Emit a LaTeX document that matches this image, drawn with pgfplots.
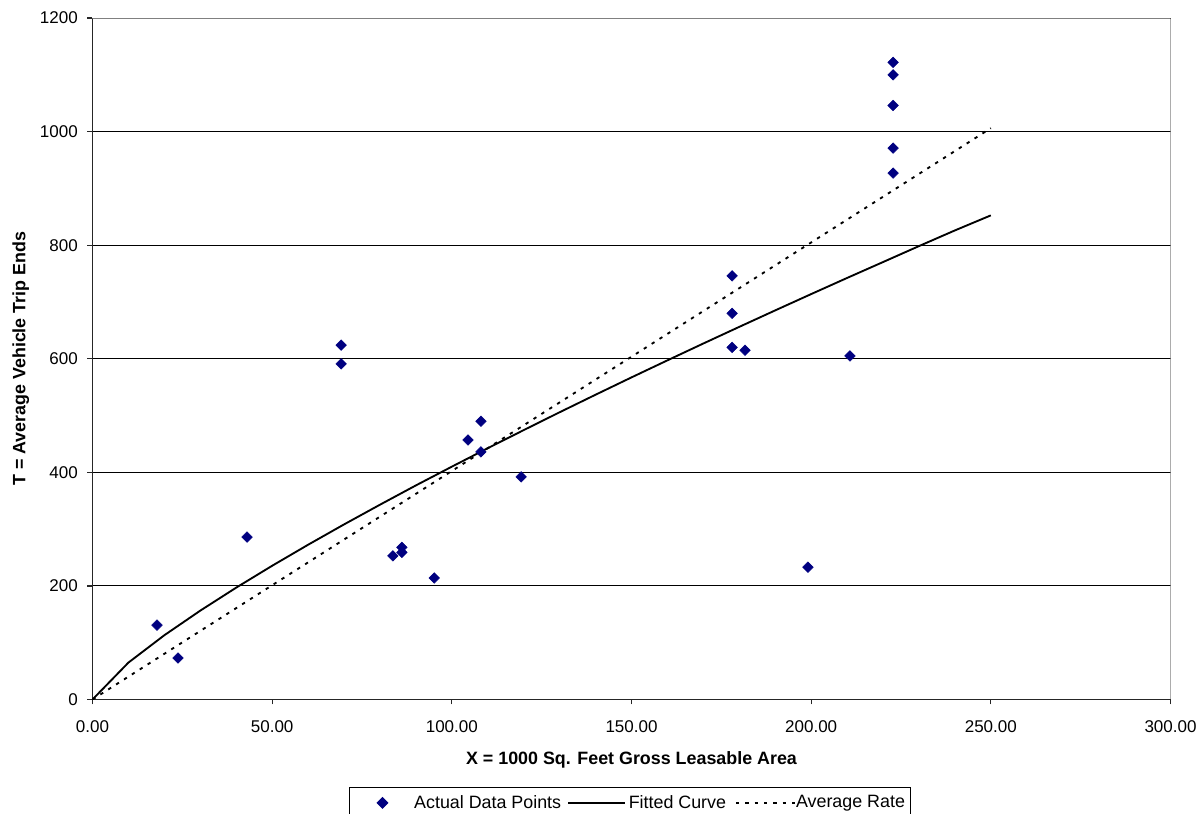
\documentclass[border=0pt]{standalone}
\usepackage{fontspec}
\setmainfont{Liberation Sans}
\usepackage{pgfplots}
\pgfplotsset{compat=1.18}
\definecolor{navy}{RGB}{0,0,128}
\newcommand\fs{\fontsize{12.75pt}{15pt}\selectfont}
\newcommand\fl{\fontsize{13.4pt}{16pt}\selectfont}
\pgfplotsset{
  markleg/.style={legend image code/.code={\path[draw=none] (-24.75pt,0pt) -- (23.8pt,0pt); \draw[##1] plot coordinates {(0pt,0pt)};}},
  solidleg/.style={legend image code/.code={\path[draw=none] (-5.25pt,0pt) -- (45.45pt,0pt); \draw[##1] (0pt,0pt) -- (42.75pt,0pt);}},
  dotleg/.style={legend image code/.code={\path[draw=none] (-7.5pt,0pt) -- (45pt,0pt); \draw[##1] (0pt,0pt) -- (44.25pt,0pt);}},
}
\begin{document}
\begin{tikzpicture}
\useasboundingbox (-69.375pt,-85.875pt) rectangle (833.625pt,524.625pt);
\begin{axis}[
  at={(0pt,0pt)}, anchor=south west,
  scale only axis, width=808.5pt, height=511.1pt,
  xmin=0, xmax=300, ymin=0, ymax=1200,
  xtick={0,50,...,300}, ytick={0,200,...,1200},
  axis lines*=left,
  axis line style={black!85, line width=1.1pt},
  tick style={black!85, line width=0.9pt},
  tick align=outside, major tick length=3.75pt,
  ymajorgrids, grid style={black, line width=0.75pt},
  /pgf/number format/assume math mode=true,
  /pgf/number format/1000 sep={},
  xticklabel style={yshift=-8.25pt, /pgf/number format/.cd, fixed, fixed zerofill, precision=2},
  yticklabel style={xshift=-3.75pt},
  tick label style={font=\fs},
  every axis x label/.style={at={(axis description cs:0.5,-0.096)}, anchor=base},
  every axis y label/.style={at={(axis description cs:-0.0622,0.5)}, rotate=90, anchor=base},
  label style={font=\fl\bfseries},
  xlabel={X = 1000 Sq. Feet Gross Leasable Area},
  ylabel={T = Average Vehicle Trip Ends},
  legend columns=3,
  legend style={at={(axis description cs:0.2379,-0.1284)}, anchor=north west,
    draw=black, line width=0.75pt, font=\fl, inner xsep=0pt, inner ysep=5.9pt,
    nodes={inner sep=0pt}, column sep=0pt},
]
\addplot[only marks, mark=square*, mark size=2.8pt, mark options={rotate=45, fill=navy, draw=navy}, markleg]
coordinates {
(17.95,131) (23.8,73) (43.0,286) (69.2,624) (69.2,591) (83.6,253) (86.1,268) (86.1,259)
(95.1,214) (104.5,457) (108.1,490) (108.1,436) (119.3,392)
(178.0,746) (178.0,680) (178.0,620) (181.6,615) (199.1,233) (210.8,605)
(222.8,1122) (222.8,1100) (222.8,1046) (222.8,971) (222.8,927)
};
\addlegendentry{Actual Data Points}
\addplot[black, line width=1.4pt, mark=none, solidleg]
coordinates {
(0,0) (10,65.0) (20,113.2) (30,156.5) (40,197.0) (50,235.5) (60,272.5) (70,308.3)
(80,343.0) (90,377.0) (100,410.0) (110,442.5) (120,474.4) (130,505.8) (140,536.7)
(150,567.2) (160,597.2) (170,626.9) (180,656.2) (190,685.2) (200,713.9) (210,742.3)
(220,770.3) (230,798.4) (240,826.0) (250,852.5)
};
\addlegendentry{Fitted Curve}
\addplot[black, line width=1.4pt, mark=none, dash pattern=on 2.5pt off 4.5pt, dotleg]
coordinates {(0,0) (250,1006)};
\addlegendentry{Average Rate\hspace*{3.75pt}}
\draw[gray, line width=1.1pt] (rel axis cs:0,1) -- (rel axis cs:1,1) -- (rel axis cs:1,0);
\end{axis}
\end{tikzpicture}
\end{document}
